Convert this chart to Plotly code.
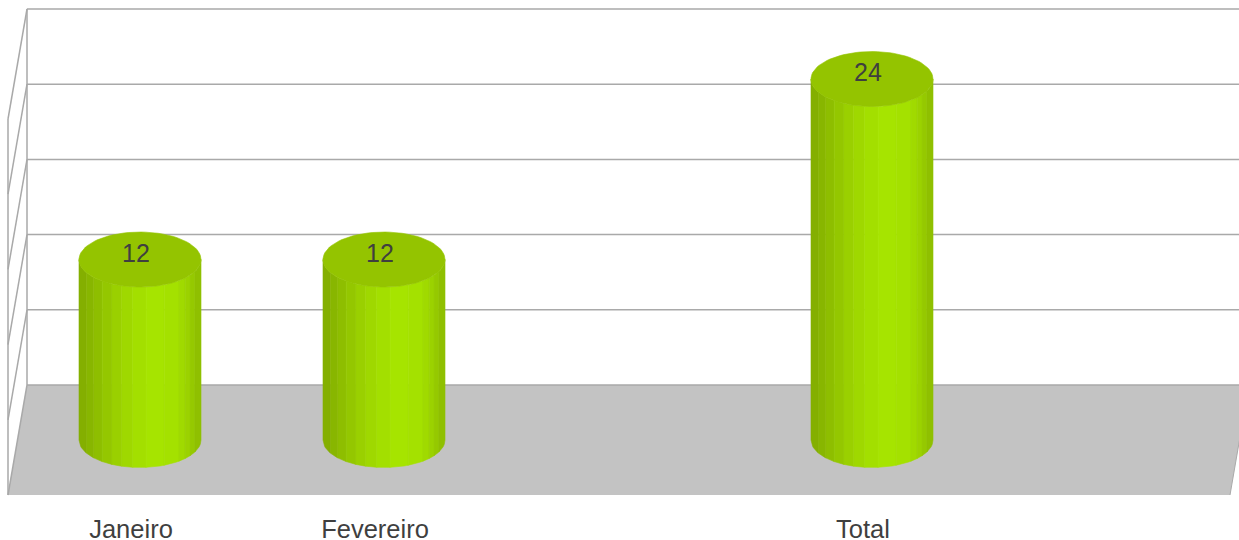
import numpy as np
import plotly.graph_objects as go

categories = ["Janeiro", "Fevereiro", "", "Total"]
values = [12, 12, None, 24]
grid_values = [0, 5, 10, 15, 20, 25]

W, H = 1239, 540
M_B = 29
PX_CAT, X0 = 244.0, 140.0      # px per category, px of category 0
PX_VAL, Y0 = 15.04, 440.0      # px per value unit, px of value 0
plot_h = H - M_B

x_range = [(0 - X0) / PX_CAT, (W - X0) / PX_CAT]
y_range = [(Y0 - plot_h) / PX_VAL, Y0 / PX_VAL]

dx = lambda px: px / PX_CAT
dy = lambda px: px / PX_VAL

# depth of the room relative to the bar plane
RIGHT_BACK = (1249 - X0) / PX_CAT
RIGHT_FRONT = (1230 - X0) / PX_CAT
LEFT_BACK = (27 - X0) / PX_CAT
LEFT_FRONT = (8 - X0) / PX_CAT
back = lambda v: v + dy(55)
front = lambda v: v - dy(55)

GRID = "#a9a9a9"
FLOOR = "#c3c3c3"
TOP = "#94c400"
TEXT = "#3f3f3f"
FONT = "Liberation Sans"
# strip edges as fraction of bar width, and their colours
strip_edges = [0, .06, .12, .19, .27, .35, .44, .55, .70, .82, .87, .91, .95, 1]
strip_cols = ["#84af00", "#88b600", "#8ebe00", "#94c700", "#9ad000", "#9fd800", "#a3df00",
              "#a6e400", "#a4e100", "#a0da00", "#9bd200", "#95c900", "#8fc000"]
RX, RY = 61.0, 27.5

fig = go.Figure()


def line(xs, ys, width=1.5, color=GRID):
    fig.add_trace(go.Scatter(x=xs, y=ys, mode="lines", hoverinfo="skip", showlegend=False,
                             line=dict(color=color, width=width)))


def poly(xs, ys, color, edge=0.0):
    fig.add_trace(go.Scatter(x=xs, y=ys, mode="lines", fill="toself", fillcolor=color,
                             hoverinfo="skip", showlegend=False,
                             line=dict(color=color, width=edge)))


# floor
poly([LEFT_BACK, RIGHT_BACK, RIGHT_FRONT, LEFT_FRONT, LEFT_BACK],
     [back(0), back(0), front(0), front(0), back(0)], FLOOR)

# back-wall gridlines and left-wall lines
for g in grid_values:
    line([LEFT_BACK, RIGHT_BACK], [back(g), back(g)])
    line([LEFT_BACK, LEFT_FRONT], [back(g), front(g)])
line([LEFT_BACK, LEFT_BACK], [back(0), back(grid_values[-1])])
line([LEFT_FRONT, LEFT_FRONT], [front(0), front(grid_values[-1])])
line([RIGHT_BACK, RIGHT_FRONT], [back(0), front(0)], 1.0)

# cylinders
rx, ry = dx(RX), dy(RY)
for i, v in enumerate(values):
    if v is None:
        continue
    for k, col in enumerate(strip_cols):
        a, b = strip_edges[k], strip_edges[k + 1]
        t = np.linspace(a, b, 10)
        u = 2 * t - 1
        xs = i + rx * u
        low = -ry * np.sqrt(np.clip(1 - u ** 2, 0, 1))
        high = v + low
        poly(np.r_[xs, xs[::-1], xs[0]], np.r_[low, high[::-1], low[0]], col, 0.6)
    th = np.linspace(0, 2 * np.pi, 90)
    poly(i + rx * np.cos(th), v + ry * np.sin(th), TOP, 0.6)

# value labels
lab = [(i, v) for i, v in enumerate(values) if v is not None]
fig.add_trace(go.Scatter(x=[i + dx(-4) for i, _ in lab], y=[v + dy(4) for _, v in lab],
                         mode="text", text=[str(v) for _, v in lab], hoverinfo="skip",
                         showlegend=False, textposition="middle center",
                         textfont=dict(family=FONT, size=25, color=TEXT)))

fig.update_layout(
    width=W, height=H, margin=dict(l=0, r=0, t=0, b=M_B), autosize=False,
    paper_bgcolor="white", plot_bgcolor="white", showlegend=False,
    xaxis=dict(range=x_range, showgrid=False, zeroline=False, showline=False, ticks="",
               tickmode="array", tickvals=[i + dx(-9) for i in range(len(categories))],
               ticktext=categories, tickfont=dict(family=FONT, size=25.5, color=TEXT),
               automargin=False, fixedrange=True),
    yaxis=dict(range=y_range, visible=False, automargin=False, fixedrange=True),
)

fig.write_html("out.html", config=dict(displayModeBar=False),
               post_script="document.body.style.margin='0';document.body.style.overflow='hidden';")
